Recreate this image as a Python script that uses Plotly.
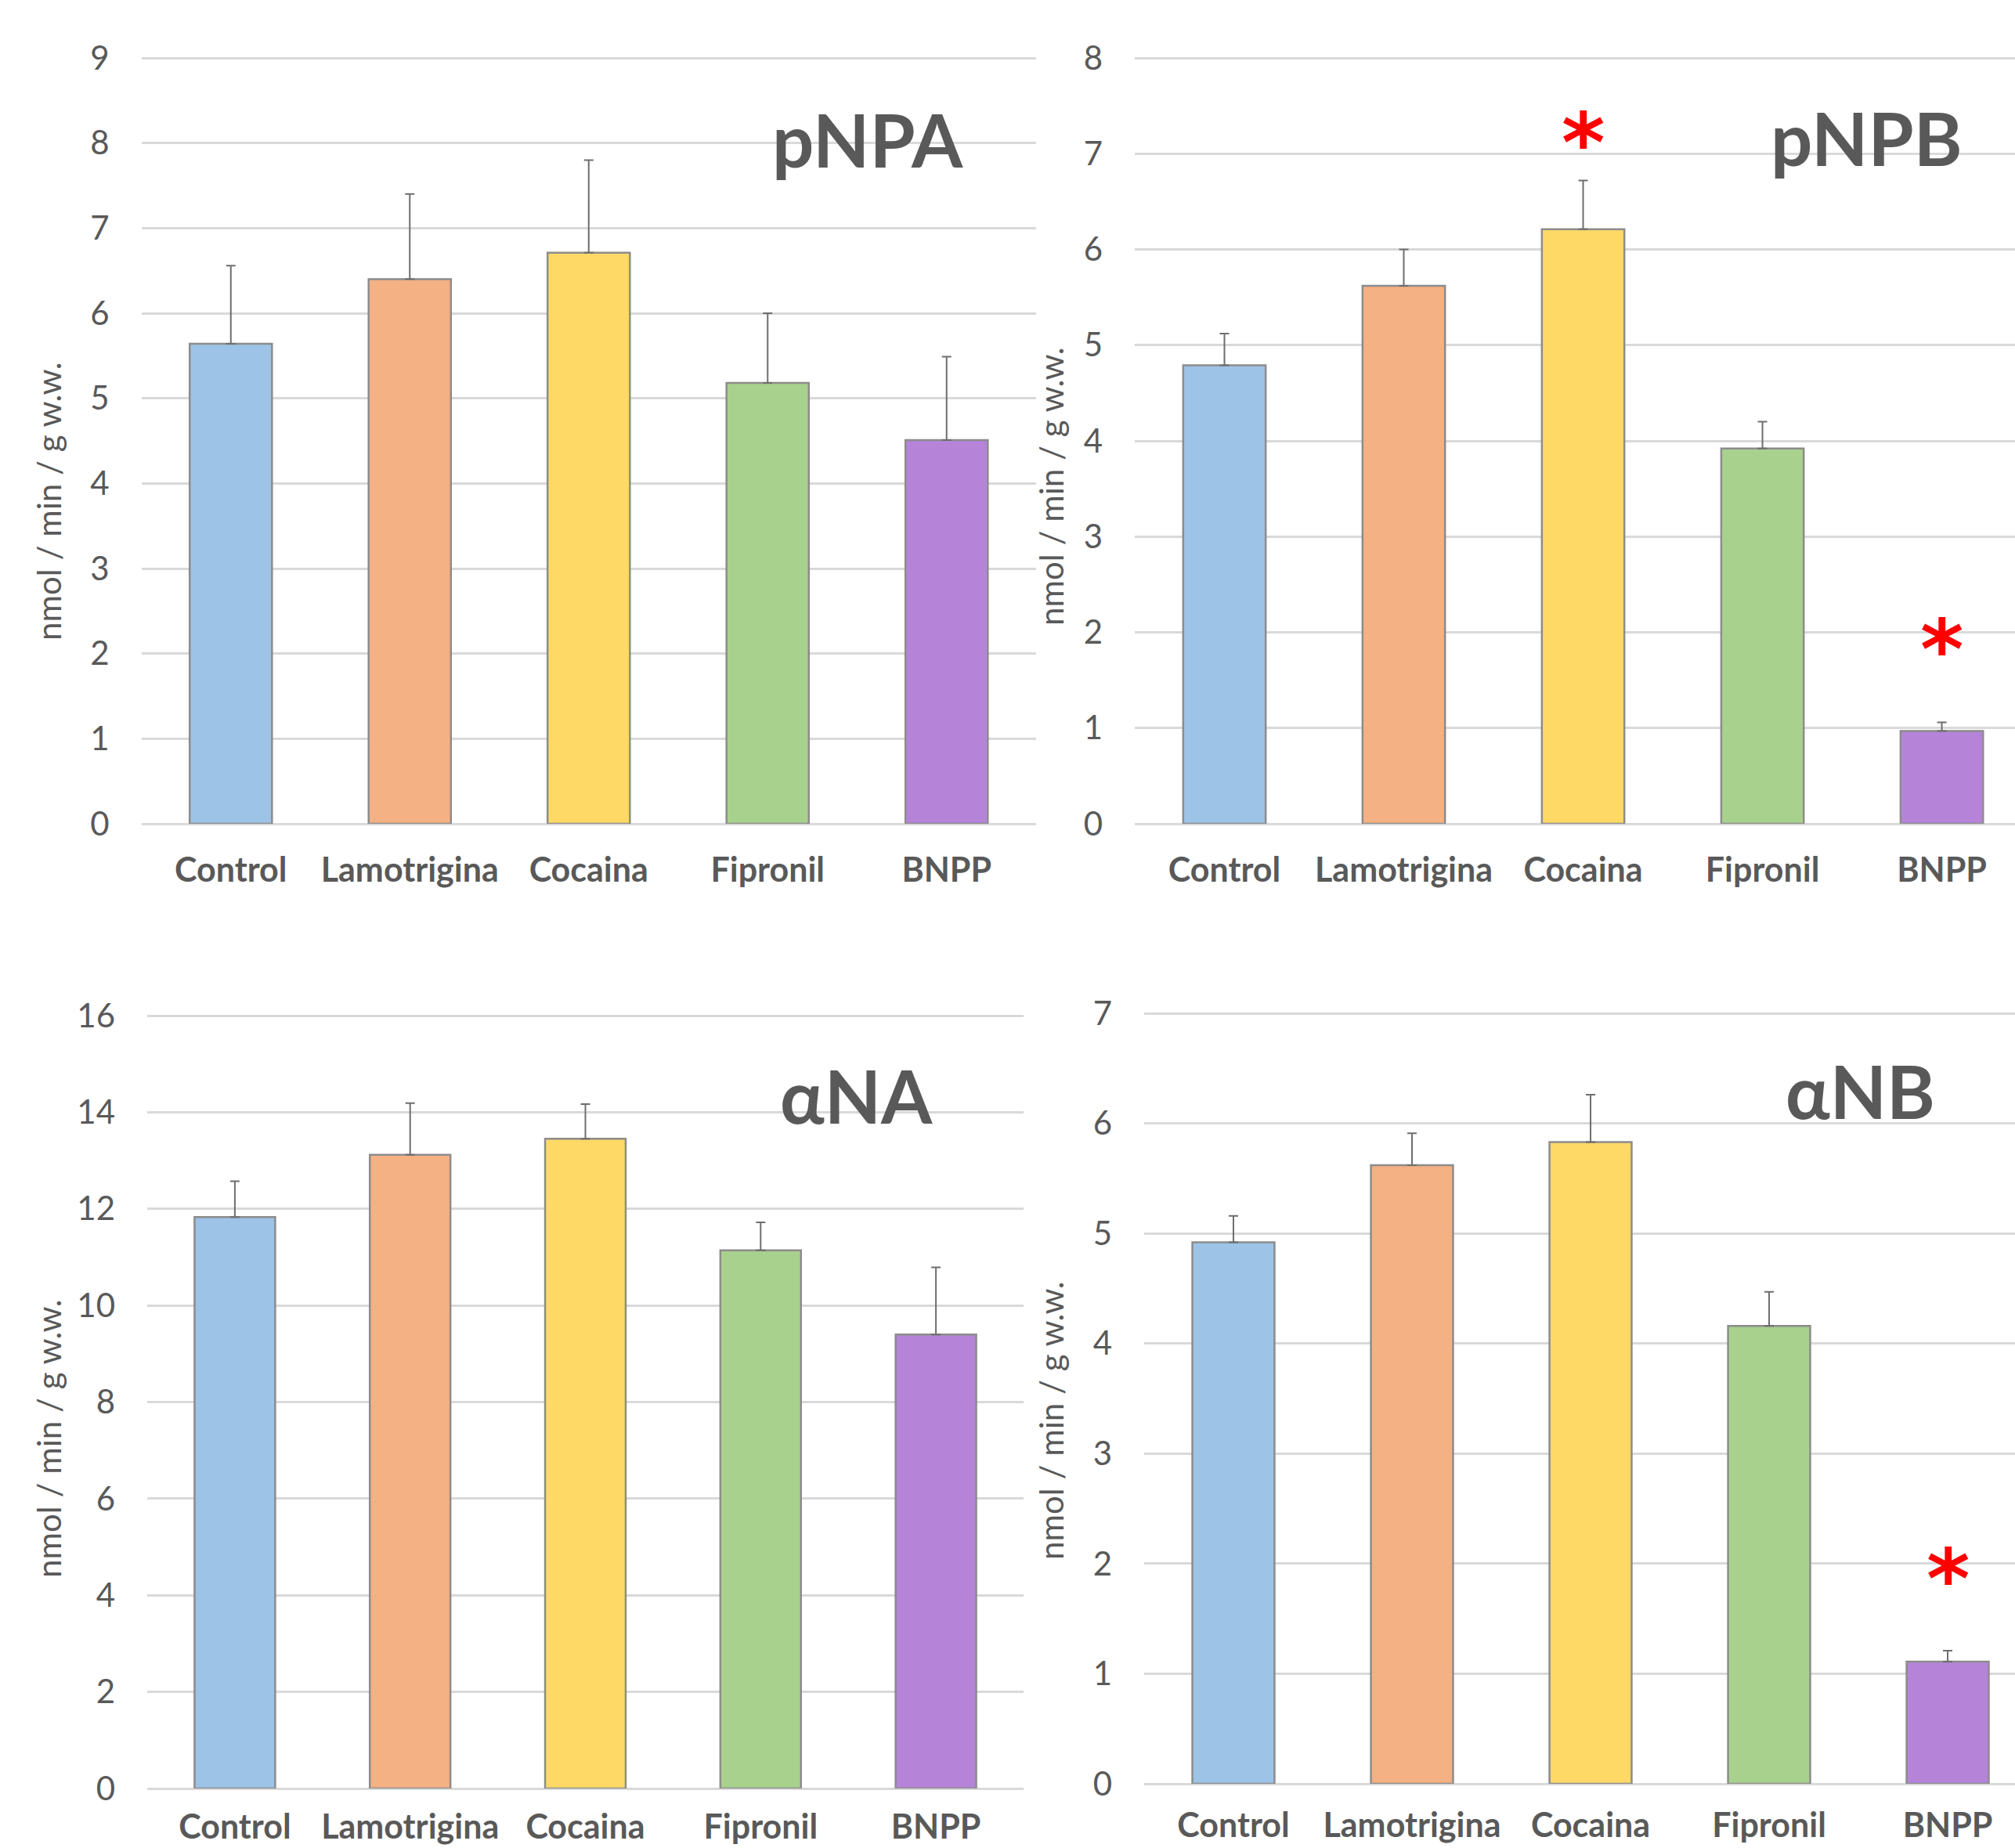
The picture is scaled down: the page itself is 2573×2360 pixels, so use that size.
import plotly.graph_objects as go

W, H = 2573, 2360

categories = ["Control", "Lamotrigina", "Cocaina", "Fipronil", "BNPP"]
bar_colors = ["#9DC3E6", "#F4B183", "#FFD966", "#A9D18E", "#B584D9"]

# panel values (mean) and upper error (SD)
pnpa_vals = [5.64, 6.40, 6.71, 5.18, 4.51]
pnpa_err = [0.92, 1.00, 1.09, 0.82, 0.98]

pnpb_vals = [4.79, 5.62, 6.21, 3.92, 0.97]
pnpb_err = [0.33, 0.38, 0.51, 0.28, 0.09]

ana_vals = [11.83, 13.12, 13.45, 11.14, 9.40]
ana_err = [0.74, 1.07, 0.72, 0.58, 1.39]

anb_vals = [4.92, 5.62, 5.83, 4.16, 1.11]
anb_err = [0.24, 0.29, 0.43, 0.31, 0.10]

titles = ["pNPA", "pNPB", "\u03b1NA", "\u03b1NB"]
y_title = "nmol / min / g w.w."
y_max = [9, 8, 16, 7]
y_dticks = [1, 1, 2, 1]

# significance markers: (panel index, category, y value)
sig_panels = [1, 1, 3]
sig_cats = ["Cocaina", "BNPP", "BNPP"]
sig_y = [7.25, 1.96, 1.98]

# layout in pixels (left, right, top, bottom) of each plot area
boxes = [(180.5, 1323, 74, 1052), (1449, 2573, 74, 1052),
         (188, 1307, 1297, 2284), (1461, 2573, 1294, 2278)]
x_ranges = [[-0.5, 4.5], [-0.5, 4.408], [-0.5, 4.5], [-0.5, 4.377]]
x_standoff = [30, 30, 20, 24]
title_pos = [(1108, 178), (2383, 175), (1093, 1398), (2375, 1392)]
ytitle_pos = [(62, 640), (1342, 621), (62, 1837), (1342, 1814)]

FONT = "Lato"
TXT = "#595959"
GRID = "#D9D9D9"
EXT = 4  # px of headroom so the top gridline is drawn

data_sets = [(pnpa_vals, pnpa_err), (pnpb_vals, pnpb_err),
             (ana_vals, ana_err), (anb_vals, anb_err)]

fig = go.Figure()
for i, (vals, errs) in enumerate(data_sets):
    sfx = "" if i == 0 else str(i + 1)
    fig.add_trace(go.Bar(
        x=categories, y=vals, width=0.46,
        marker=dict(color=bar_colors, line=dict(color="#8C8C8C", width=2.5)),
        error_y=dict(type="data", symmetric=False, array=errs,
                     arrayminus=[0] * len(errs), color="#6E6E6E",
                     thickness=2, width=6),
        xaxis="x" + sfx, yaxis="y" + sfx, showlegend=False,
    ))

layout = dict(
    width=W, height=H, margin=dict(l=0, r=0, t=0, b=0, autoexpand=False),
    paper_bgcolor="white", plot_bgcolor="white", showlegend=False,
    font=dict(family=FONT, color=TXT),
)
annotations = []
for i, (l, r, t, b) in enumerate(boxes):
    sfx = "" if i == 0 else str(i + 1)
    ppu = (b - t) / y_max[i]
    layout["xaxis" + sfx] = dict(
        domain=[l / W, r / W], range=x_ranges[i], anchor="y" + sfx,
        type="category", showgrid=False, zeroline=False, automargin=False,
        showline=False, ticks="",
        tickmode="array", tickvals=categories,
        ticktext=["<b>%s</b>" % c for c in categories],
        tickfont=dict(family=FONT, size=43, color=TXT),
        ticklabelstandoff=x_standoff[i],
    )
    layout["yaxis" + sfx] = dict(
        domain=[1 - b / H, 1 - (t - EXT) / H],
        range=[0, y_max[i] + EXT / ppu], dtick=y_dticks[i],
        anchor="x" + sfx, showgrid=True, gridcolor=GRID, gridwidth=2.5,
        zeroline=True, zerolinecolor=GRID, zerolinewidth=2.5,
        showline=False, ticks="", automargin=False,
        tickfont=dict(family=FONT, size=42, color=TXT),
        ticklabelstandoff=40,
    )
    tx, ty = title_pos[i]
    annotations.append(dict(
        text="<b>%s</b>" % titles[i], x=tx / W, y=1 - ty / H,
        xref="paper", yref="paper",
        xanchor="center", yanchor="middle", showarrow=False,
        font=dict(family=FONT, size=94, color=TXT),
    ))
    yx, yy = ytitle_pos[i]
    annotations.append(dict(
        text=y_title, x=yx / W, y=1 - yy / H, xref="paper", yref="paper",
        xanchor="center", yanchor="middle", textangle=-90, showarrow=False,
        font=dict(family=FONT, size=42, color=TXT),
    ))

for p, c, yv in zip(sig_panels, sig_cats, sig_y):
    sfx = "" if p == 0 else str(p + 1)
    annotations.append(dict(
        text="<b>*</b>", x=c, y=yv, xref="x" + sfx, yref="y" + sfx,
        xanchor="center", yanchor="middle", showarrow=False, yshift=-17,
        font=dict(family="DejaVu Sans", size=106, color="#FF0000"),
    ))

layout["annotations"] = annotations
fig.update_layout(**layout)
fig.write_html(
    "out.html",
    config={"displayModeBar": False},
    post_script="document.body.style.margin='0px';document.body.style.overflow='hidden';",
)
